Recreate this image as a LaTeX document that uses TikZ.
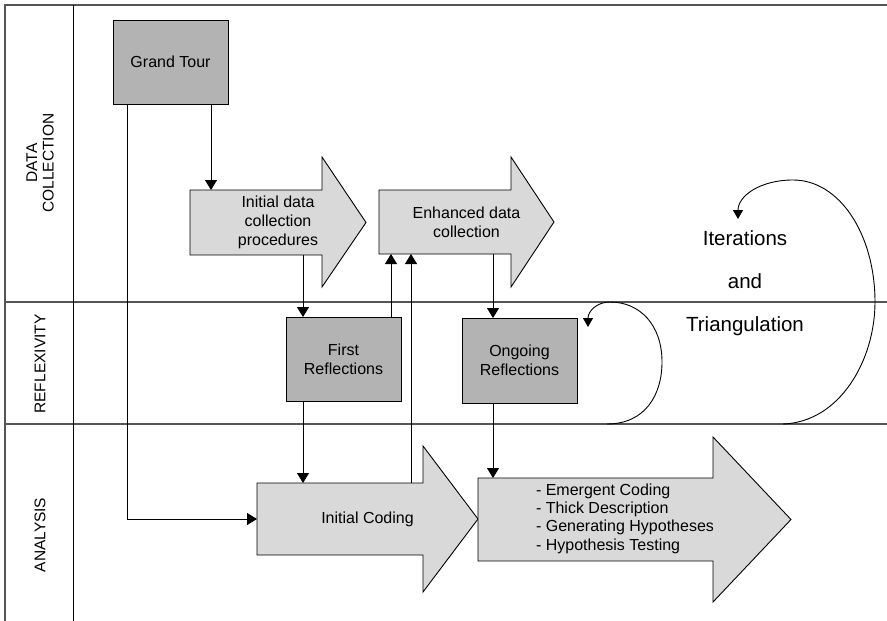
\documentclass[tikz,border=0pt]{standalone}
\usepackage{fontspec}
\setmainfont{Liberation Sans}
\usetikzlibrary{arrows.meta,calc}
\definecolor{boxgray}{HTML}{B3B3B3}
\definecolor{arrowgray}{HTML}{D9D9D9}
\definecolor{laneline}{HTML}{555555}
\newcommand\lblfont{\fontsize{16}{19}\selectfont}
\newcommand\lanefont{\fontsize{15.5}{16.5}\selectfont}
\newcommand\bigfont{\fontsize{20.5}{43}\selectfont}
\begin{document}
\begin{tikzpicture}[x=1pt,y=-1pt,
  lane/.style={draw=laneline, line width=1.2pt},
  body/.style={draw=none, inner sep=0pt, outer sep=0pt},
  darkbox/.style={draw=black, fill=boxgray, line width=0.9pt, inner sep=0pt,
    outer sep=0pt, align=center, font=\lblfont},
  blockarrow/.style={draw=black, fill=arrowgray, line width=0.9pt, line join=miter},
  lbl/.style={inner sep=0pt, align=center, font=\lblfont},
  lanelbl/.style={inner sep=0pt, align=center, rotate=90, font=\lanefont},
  conn/.style={-{Triangle[length=10pt,width=12pt]}, line width=0.9pt},
  cycle arrow/.style={-{Triangle[length=9pt,width=10pt]}, line width=0.9pt}]
\useasboundingbox (0,0) rectangle (887,621);

% swim-lane frame
\draw[lane] (5,621) -- (5,5) -- (887,5);
\draw[lane] (5,302) -- (887,302);
\draw[lane] (5,424) -- (887,424);
\draw[line width=1pt] (73,5) -- (73,621);

% lane titles
\node[lanelbl] (dc) at (40,163) {DATA\\COLLECTION};
\node[lanelbl] (rx) at (40,364) {REFLEXIVITY};
\node[lanelbl] (as) at (40,535) {ANALYSIS};

% bodies of the block arrows
\node[body, minimum width=132, minimum height=65] (ida) at (256,222.5) {};
\node[body, minimum width=132, minimum height=64] (eda) at (445,222) {};
\node[body, minimum width=166, minimum height=72] (ic) at (340,519) {};
\node[body, minimum width=235, minimum height=83] (an) at (595.5,519.5) {};

% block arrows
\draw[blockarrow] (ida.north west) -- (ida.north east) -- ++(0,-33)
  -- ($(ida.east)+(44,0)$) -- ($(ida.south east)+(0,32)$) -- (ida.south east)
  -- (ida.south west) -- cycle;
\draw[blockarrow] (eda.north west) -- (eda.north east) -- ++(0,-33)
  -- ($(eda.east)+(43,0)$) -- ($(eda.south east)+(0,33)$) -- (eda.south east)
  -- (eda.south west) -- cycle;
\draw[blockarrow] (ic.north west) -- (ic.north east) -- ++(0,-37)
  -- ($(ic.east)+(55,0)$) -- ($(ic.south east)+(0,37)$) -- (ic.south east)
  -- (ic.south west) -- cycle;
\draw[blockarrow] (an.north west) -- (an.north east) -- ++(0,-41)
  -- ($(an.east)+(78,0)$) -- ($(an.south east)+(0,41)$) -- (an.south east)
  -- (an.south west) -- cycle;

% texts of the block arrows
\node[lbl] (idatext) at ($(ida.center)+(22,0)$) {Initial data\\collection\\procedures};
\node[lbl] (edatext) at ($(eda.center)+(21.5,0.5)$) {Enhanced data\\collection};
\node[lbl] (ictext) at ($(ic.center)+(27.5,0)$) {Initial Coding};
\node[lbl, align=left, font=\fontsize{16}{18.3}\selectfont] (antext) at (625,518.5)
  {- Emergent Coding\\- Thick Description\\- Generating Hypotheses\\- Hypothesis Testing};

% boxes
\node[darkbox, minimum width=115, minimum height=84] (gt) at (170.5,62) {Grand Tour};
\node[darkbox, minimum width=115, minimum height=84] (fr) at (343.5,359) {First\\Reflections};
\node[darkbox, minimum width=115, minimum height=85] (or) at (519.5,360.5) {Ongoing\\Reflections};

% connectors
\draw[conn] (gt.south -| 211,0) -- (ida.north -| 211,0);
\draw[conn] (gt.south -| 127,0) |- (ic.west);
\draw[conn] (ida.south -| 303,0) -- (fr.north -| 303,0);
\draw[conn] (fr.north -| 391,0) -- (eda.south -| 391,0);
\draw[conn] (ic.north -| 411,0) -- (eda.south -| 411,0);
\draw[conn] (fr.south -| 303,0) -- (ic.north -| 303,0);
\draw[conn] (eda.south -| 493,0) -- (or.north -| 493,0);
\draw[conn] (or.south -| 493,0) -- (an.north -| 493,0);

% iteration loops
\coordinate (s1) at (607,424);
\coordinate (e1) at (588,327);
\draw[cycle arrow] (s1) .. controls (645,424) and (662,395) .. (662,362)
  .. controls (662,325) and (640,302) .. (610,302)
  .. controls (597,302) and (588,311) .. (e1);
\coordinate (s2) at (783,424);
\coordinate (e2) at (738,219);
\draw[cycle arrow] (s2) .. controls (840,422) and (875,360) .. (875,302)
  .. controls (875,235) and (840,180) .. (793,180)
  .. controls (760,180) and (738,196) .. (e2);

\node[lbl, font=\bigfont] (it) at (745,283) {Iterations\\and\\Triangulation};
\end{tikzpicture}
\end{document}
